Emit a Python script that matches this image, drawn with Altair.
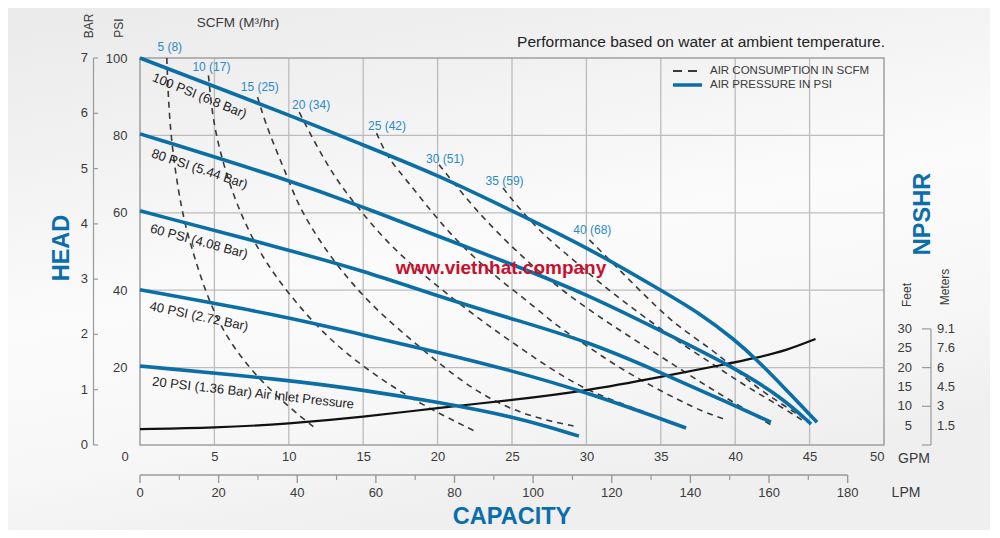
import altair as alt
import pandas as pd

FONT = "Liberation Sans"
BLUE = "#0b6fa6"
LABEL_BLUE = "#2b8ac6"
TITLE_BLUE = "#0a6eab"
TEXT = "#3a3a3a"
GRID = "#bcbcbc"
DASH = "#3a3a3a"

W, H = 744, 387

# ---------------- data (GPM, PSI) ----------------
pressure_names = ["100", "80", "60", "40", "20"]
p100_gpm = [0, 10, 15, 20, 25, 30, 35, 37.6, 40, 41.4, 43.2, 45.5]
p100_psi = [100, 85.3, 77.5, 69.8, 60.5, 51.2, 40.0, 34.1, 27.1, 22.2, 15.2, 5.9]
p80_gpm = [0, 10, 15, 20, 24.8, 30, 34.9, 40, 43.2, 45.1]
p80_psi = [80.4, 68.5, 61.5, 54.0, 47.0, 39.0, 29.7, 19.9, 12.1, 5.4]
p60_gpm = [0, 10, 15, 20, 24.8, 30, 34.9, 40, 42.4]
p60_psi = [60.5, 50.4, 45.0, 38.5, 32.8, 26.9, 18.9, 10.1, 5.9]
p40_gpm = [0, 10, 15, 20, 24.8, 30, 36.7]
p40_psi = [40.1, 33.1, 28.4, 24.0, 19.4, 13.7, 4.4]
p20_gpm = [0, 10, 15, 20, 25.3, 29.5]
p20_psi = [20.4, 16.8, 14.2, 11.1, 7.2, 2.3]

# air consumption (SCFM) curves
s5_gpm = [1.8, 2.0, 2.8, 3.5, 4.4, 5.6, 7.4, 9.6, 11.9]
s5_psi = [100, 80, 60, 50.5, 39.5, 29, 19.5, 11, 4]
s10_gpm = [4.6, 4.9, 5.6, 6.5, 7.9, 9.4, 11.2, 13.0, 15.0, 18.3, 22.6]
s10_psi = [95.5, 83.5, 72.5, 62, 50.5, 42, 33.5, 26.5, 20.2, 11.6, 3.4]
s15_gpm = [7.9, 8.4, 9.2, 9.9, 10.5, 11.4, 12.8, 14.6, 16.4, 18.8, 21.3, 23.8, 26.5, 29.4]
s15_psi = [89.9, 83.5, 75.7, 69.3, 63.3, 56.8, 48.6, 40.1, 33.1, 25.3, 17.3, 11.1, 7.0, 4.7]
s20_gpm = [10.7, 11.9, 13.2, 14.6, 16.3, 18.1, 20.3, 22.6, 24.8, 27.5, 30.2, 33.6, 36.7]
s20_psi = [86.0, 77.0, 68.5, 61.5, 53.7, 47.0, 40.1, 33.1, 27.1, 19.9, 13.7, 9.0, 4.4]
s25_gpm = [15.9, 16.6, 17.9, 19.5, 20.8, 22.4, 24.2, 26.2, 28.0, 29.9, 31.7, 34.0, 36.2, 37.9, 39.4]
s25_psi = [80.6, 74.4, 68.5, 60.7, 54.8, 48.6, 42.6, 36.7, 30.8, 26.0, 21.2, 16.0, 11.6, 8.5, 6.5]
s30_gpm = [20.1, 21.3, 22.6, 24.0, 25.7, 27.5, 29.7, 31.7, 34.0, 36.2, 38.3, 40.3, 42.4]
s30_psi = [72.4, 66.7, 60.7, 55.0, 48.6, 42.6, 36.2, 31.0, 25.3, 19.9, 14.7, 10.1, 5.2]
s35_gpm = [24.4, 25.3, 26.2, 27.5, 28.9, 30.2, 31.9, 34.0, 36.2, 38.5, 40.7, 43.0, 44.6]
s35_psi = [66.4, 62.0, 58.1, 53.0, 48.6, 44.2, 38.8, 32.8, 26.6, 20.9, 15.2, 10.1, 6.2]
s40_gpm = [30.2, 31.1, 32.9, 34.7, 36.2, 38.5, 39.8, 41.4, 43.0, 45.0]
s40_psi = [53.0, 49.6, 42.6, 35.7, 30.5, 24.5, 20.2, 15.0, 10.9, 5.9]

scfm_labels = ["5 (8)", "10 (17)", "15 (25)", "20 (34)", "25 (42)", "30 (51)", "35 (59)", "40 (68)"]
scfm_label_gpm = [2.0, 4.8, 8.05, 11.5, 16.6, 20.5, 24.5, 30.4]
scfm_label_psi = [102.8, 97.7, 92.5, 87.9, 82.4, 73.9, 68.2, 55.6]

# NPSHR curve (GPM, feet)
npshr_gpm = [0, 5, 10, 15, 20, 25, 30, 35, 39.4, 41.4, 43.5, 45.4]
npshr_ft = [4.1, 4.4, 5.5, 7.2, 9.6, 11.6, 14.0, 17.6, 20.9, 22.5, 24.5, 27.4]

curve_labels = ["100 PSI (6.8 Bar)", "80 PSI (5.44 Bar)", "60 PSI (4.08 Bar)",
                "40 PSI (2.72 Bar)", "20 PSI (1.36 Bar) Air Inlet Pressure"]
curve_label_gpm = [4.0, 4.0, 3.96, 3.96, 7.6]
curve_label_psi = [90.2, 71.3, 52.6, 33.2, 13.4]
curve_label_angle = [22, 18.5, 15, 12, 6.5]

gpm_ticks = [0, 5, 10, 15, 20, 25, 30, 35, 40, 45, 50]
psi_ticks = [0, 20, 40, 60, 80, 100]
lpm_major = [0, 20, 40, 60, 80, 100, 120, 140, 160, 180]
lpm_minor = [10, 30, 50, 70, 90, 110, 130, 150, 170]
bar_ticks = [0, 1, 2, 3, 4, 5, 6, 7]
npshr_feet = [30, 25, 20, 15, 10, 5]
npshr_meters = ["9.1", "7.6", "6", "4.5", "3", "1.5"]
npshr_bracket_ticks = [30, 20, 10, 0]
LPM_PER_GPM = 3.785

# ---------------- tables ----------------
pressure_df = pd.concat([
    pd.DataFrame({"series": n, "gpm": g, "psi": p})
    for n, g, p in zip(pressure_names,
                       [p100_gpm, p80_gpm, p60_gpm, p40_gpm, p20_gpm],
                       [p100_psi, p80_psi, p60_psi, p40_psi, p20_psi])
])
scfm_df = pd.concat([
    pd.DataFrame({"scfm": n, "gpm": g, "psi": p})
    for n, g, p in zip([5, 10, 15, 20, 25, 30, 35, 40],
                       [s5_gpm, s10_gpm, s15_gpm, s20_gpm, s25_gpm, s30_gpm, s35_gpm, s40_gpm],
                       [s5_psi, s10_psi, s15_psi, s20_psi, s25_psi, s30_psi, s35_psi, s40_psi])
])
npshr_df = pd.DataFrame({"gpm": npshr_gpm, "psi": npshr_ft})
scfm_lab_df = pd.DataFrame({"label": scfm_labels, "gpm": scfm_label_gpm, "psi": scfm_label_psi})
curve_lab_df = pd.DataFrame({"label": curve_labels, "gpm": curve_label_gpm,
                             "psi": curve_label_psi, "ang": curve_label_angle})

XS = alt.Scale(domain=[0, 50], nice=False, zero=False)
YS = alt.Scale(domain=[0, 100], nice=False, zero=False)
XA = alt.Axis(values=gpm_ticks, grid=False, ticks=False, tickSize=0, zindex=1,
              domain=False, labelFont=FONT, labelFontSize=13, labelColor=TEXT, labelPadding=5,
              labelOffset={"condition": {"test": "datum.value == 0", "value": -19}, "value": 0},
              title=None)
YA = alt.Axis(values=psi_ticks, grid=False, ticks=False, tickSize=0, zindex=1,
              domain=False, labelFont=FONT, labelFontSize=13, labelColor=TEXT, labelPadding=13,
              labelExpr="datum.value == 0 ? '' : datum.label", title=None)


def X(field):
    return alt.X(field, type="quantitative", scale=XS, axis=XA)


def Y(field):
    return alt.Y(field, type="quantitative", scale=YS, axis=YA)


one = pd.DataFrame({"k": [0]})


def txt(text, x, y, size=13, color=TEXT, angle=0, align="center", weight="normal", baseline="middle"):
    return alt.Chart(pd.DataFrame({"t": [text]})).mark_text(
        font=FONT, fontSize=size, color=color, angle=angle, align=align,
        fontWeight=weight, baseline=baseline
    ).encode(x=alt.value(x), y=alt.value(y), text="t:N")


layers = []

# page background (soft gradient)
bg_grad = alt.LinearGradient(
    gradient="linear", x1=0, y1=0, x2=0.35, y2=1,
    stops=[alt.GradientStop(color="#eaeaeb", offset=0),
           alt.GradientStop(color="#f1f1f2", offset=0.25),
           alt.GradientStop(color="#fbfbfb", offset=0.55),
           alt.GradientStop(color="#f7f7f8", offset=0.8),
           alt.GradientStop(color="#efeff0", offset=1)])
layers.append(alt.Chart(one).mark_rect(fill=bg_grad).encode(
    x=alt.value(-132), x2=alt.value(852), y=alt.value(-50), y2=alt.value(472)))

# grid
layers.append(alt.Chart(pd.DataFrame({"g": gpm_ticks[1:-1]})).mark_rule(
    color=GRID, strokeWidth=1.3).encode(x=X("g"), y=alt.value(0), y2=alt.value(H)))
layers.append(alt.Chart(pd.DataFrame({"p": psi_ticks[1:-1]})).mark_rule(
    color=GRID, strokeWidth=1.3).encode(y=Y("p"), x=alt.value(0), x2=alt.value(W)))
layers.append(alt.Chart(pd.DataFrame({"x0": [0], "x1": [50], "y0": [0], "y1": [100]})).mark_rect(
    fill="transparent", stroke="#a0a0a0", strokeWidth=1.5).encode(
    x=X("x0"), x2="x1:Q", y=Y("y0"), y2="y1:Q"))

# air consumption dashed curves
layers.append(alt.Chart(scfm_df).mark_line(
    color=DASH, strokeWidth=1.6, strokeDash=[6, 5], interpolate="basis"
).encode(x=X("gpm"), y=Y("psi"), detail="scfm:N"))

# NPSHR curve
layers.append(alt.Chart(npshr_df).mark_line(
    color="#111111", strokeWidth=2.2, interpolate="basis"
).encode(x=X("gpm"), y=Y("psi")))

# air pressure curves
layers.append(alt.Chart(pressure_df).mark_line(
    color=BLUE, strokeWidth=3.6, interpolate="basis"
).encode(x=X("gpm"), y=Y("psi"), detail="series:N"))

# SCFM labels
layers.append(alt.Chart(scfm_lab_df).mark_text(
    font=FONT, fontSize=12, color=LABEL_BLUE
).encode(x=X("gpm"), y=Y("psi"), text="label:N"))

# curve labels
layers.append(alt.Chart(curve_lab_df).mark_text(
    font=FONT, fontSize=13, color="#222222", baseline="middle"
).encode(x=X("gpm"), y=Y("psi"), text="label:N", angle=alt.Angle("ang:Q", scale=None)))

# watermark
layers.append(txt("www.vietnhat.company", 361, 210, size=19, color="#c8102e", weight="bold"))

# top texts
layers.append(txt("BAR", -51, -32, size=12, angle=270))
layers.append(txt("PSI", -21, -30, size=12, angle=270))
layers.append(txt("SCFM (M³/hr)", 98, -35, size=13.5))
layers.append(txt("Performance based on water at ambient temperature.", 745, -16, size=15.5,
                  color="#222222", align="right"))

# legend
layers.append(alt.Chart(one).mark_rule(color=DASH, strokeWidth=1.8, strokeDash=[9, 6]).encode(
    x=alt.value(533), x2=alt.value(561), y=alt.value(13)))
layers.append(alt.Chart(one).mark_rule(color=BLUE, strokeWidth=3.5).encode(
    x=alt.value(533), x2=alt.value(562), y=alt.value(27)))
layers.append(txt("AIR CONSUMPTION IN SCFM", 570, 13, size=11.5, align="left"))
layers.append(txt("AIR PRESSURE IN PSI", 570, 27, size=11.5, align="left"))

# BAR axis (left)
bar_df = pd.DataFrame({"bar": bar_ticks})
bar_base = alt.Chart(bar_df).transform_calculate(psi="datum.bar * 100 / 7")
layers.append(bar_base.mark_text(font=FONT, fontSize=13, color=TEXT, align="right").encode(
    x=alt.value(-52), y=Y("psi"), text="bar:Q"))
layers.append(bar_base.mark_rule(color="#9a9a9a", strokeWidth=1.2).encode(
    x=alt.value(-46.5), x2=alt.value(-42), y=Y("psi")))
layers.append(alt.Chart(pd.DataFrame({"a": [0], "b": [100]})).mark_rule(
    color="#9a9a9a", strokeWidth=1.2).encode(x=alt.value(-46.5), y=Y("a"), y2="b:Q"))

# GPM unit
layers.append(txt("GPM", 774, 401, size=14))

# LPM axis
lpm_line = pd.DataFrame({"l0": [0], "l1": [180]})
layers.append(alt.Chart(lpm_line).transform_calculate(
    g0=f"datum.l0 / {LPM_PER_GPM}", g1=f"datum.l1 / {LPM_PER_GPM}"
).mark_rule(color="#9a9a9a", strokeWidth=1.4).encode(x=X("g0"), x2="g1:Q", y=alt.value(417)))
lpm_maj = alt.Chart(pd.DataFrame({"lpm": lpm_major})).transform_calculate(
    g=f"datum.lpm / {LPM_PER_GPM}")
layers.append(lpm_maj.mark_rule(color="#9a9a9a", strokeWidth=1.4).encode(
    x=X("g"), y=alt.value(417), y2=alt.value(425)))
layers.append(lpm_maj.mark_text(font=FONT, fontSize=13, color=TEXT).encode(
    x=X("g"), y=alt.value(435), text="lpm:Q"))
layers.append(alt.Chart(pd.DataFrame({"lpm": lpm_minor})).transform_calculate(
    g=f"datum.lpm / {LPM_PER_GPM}"
).mark_rule(color="#9a9a9a", strokeWidth=1.2).encode(x=X("g"), y=alt.value(417), y2=alt.value(422)))
layers.append(txt("LPM", 766, 435, size=14))

# titles
layers.append(txt("CAPACITY", 372, 459, size=23.5, color=TITLE_BLUE, weight="bold"))
layers.append(txt("HEAD", -78, 190, size=23.5, color=TITLE_BLUE, weight="bold", angle=270))
layers.append(txt("NPSHR", 783, 156, size=23.5, color=TITLE_BLUE, weight="bold", angle=270))

# NPSHR axis (right)
np_df = pd.DataFrame({"feet": npshr_feet, "meters": npshr_meters})
layers.append(alt.Chart(np_df).mark_text(font=FONT, fontSize=13, color=TEXT, align="right").encode(
    x=alt.value(772), y=Y("feet"), text="feet:Q"))
layers.append(alt.Chart(np_df).mark_text(font=FONT, fontSize=13, color=TEXT, align="left").encode(
    x=alt.value(797), y=Y("feet"), text="meters:N"))
layers.append(alt.Chart(pd.DataFrame({"a": [0], "b": [30]})).mark_rule(
    color="#9a9a9a", strokeWidth=1.2).encode(x=alt.value(791), y=Y("a"), y2="b:Q"))
layers.append(alt.Chart(pd.DataFrame({"feet": npshr_bracket_ticks})).mark_rule(
    color="#9a9a9a", strokeWidth=1.2).encode(x=alt.value(782), x2=alt.value(791), y=Y("feet")))
layers.append(txt("Feet", 767, 237, size=12, angle=270))
layers.append(txt("Meters", 805, 229, size=12, angle=270))

chart = alt.layer(*layers).properties(
    width=W, height=H,
    autosize=alt.AutoSizeParams(type="none"),
    padding={"left": 132, "top": 50, "right": 106, "bottom": 85},
).configure(background="#eeeeef").configure_view(strokeWidth=0)

chart.save("out.html", embed_options={"renderer": "svg", "actions": False})
